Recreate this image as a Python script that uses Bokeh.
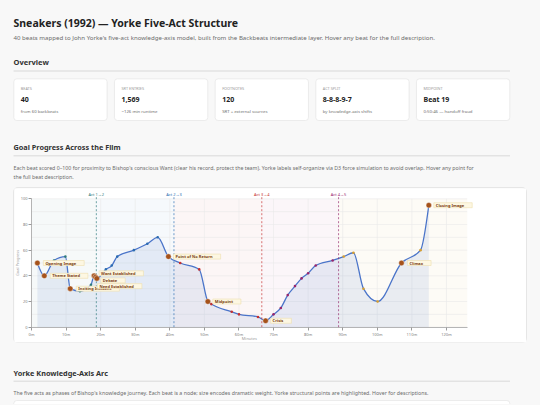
import numpy as np
from bokeh.plotting import figure
from bokeh.layouts import column
from bokeh.models import (Range1d, PrintfTickFormatter, SingleIntervalTicker, FixedTicker,
                          GlobalInlineStyleSheet)
from bokeh.core.properties import value
from bokeh.embed import file_html
from bokeh.resources import INLINE

# ---------------- data ----------------
title_text = "Sneakers (1992) \u2014 Yorke Five-Act Structure"
subtitle_text = ("40 beats mapped to John Yorke's five-act knowledge-axis model, built from the "
                 "Backbeats intermediate layer. Hover any beat for the full description.")
overview_heading = "Overview"
card_labels = ["BEATS", "SRT ENTRIES", "FOOTNOTES", "ACT SPLIT", "MIDPOINT"]
card_values = ["40", "1,569", "120", "8-8-8-9-7", "Beat 19"]
card_subs = ["from 60 backbeats", "~126 min runtime", "SRT + external sources",
             "by knowledge-axis shifts", "0:50:46 \u2014 handoff fraud"]
goal_heading = "Goal Progress Across the Film"
goal_desc = ["Each beat scored 0\u2013100 for proximity to Bishop's conscious Want (clear his record, "
             "protect the team). Yorke labels self-organize via D3 force simulation to avoid overlap. "
             "Hover any point for",
             "the full beat description."]
arc_heading = "Yorke Knowledge-Axis Arc"
arc_desc = ("The five acts as phases of Bishop's knowledge journey. Each beat is a node; size encodes "
            "dramatic weight. Yorke structural points are highlighted. Hover for descriptions.")

beat_minutes = [1.7, 3.7, 6.5, 9.8, 11.2, 14.0, 17.2, 18.1, 18.5, 18.9,
                21.5, 23.2, 24.8, 29.6, 33.5, 36.5, 39.6, 43.0, 48.5, 51.0,
                52.0, 57.9, 60.0, 65.5, 67.7, 70.0, 72.1, 74.1, 76.2, 78.1,
                80.0, 82.2, 87.1, 90.3, 93.1, 96.0, 100.1, 107.0, 112.5, 114.9]
beat_progress = [50, 40, 52, 55, 30, 28, 33, 40, 39, 38,
                 45, 48, 55, 60, 65, 70, 55, 50, 45, 20,
                 18, 12, 10, 8, 5, 10, 15, 25, 32, 38,
                 42, 48, 52, 55, 58, 30, 20, 50, 60, 95]
beat_act = [1] * 8 + [2] * 8 + [3] * 8 + [4] * 9 + [5] * 7

yorke_names = ["Opening Image", "Theme Stated", "Inciting Incident", "Want Established",
               "Need Established", "Debate", "Point of No Return", "Midpoint", "Crisis",
               "Climax", "Closing Image"]
yorke_beat_index = [0, 1, 4, 7, 8, 9, 16, 19, 24, 37, 39]

act_breaks = [18.75, 41.2, 66.6, 88.8]
act_break_labels = ["Act 1\u21922", "Act 2\u21923", "Act 3\u21924", "Act 4\u21925"]
runtime_minutes = 126
progress_max = 100
y_ticks = [0, 20, 40, 60, 80, 100]
x_axis_title = "Minutes"
y_axis_title = "Goal Progress"

# ---------------- styles / layout ----------------
FONT = "Noto Sans"
BG = "#f8f8f8"
ACT_COLORS = ["#2c7a7b", "#2b6cb0", "#c53030", "#97266d", "#d69e2e"]
LINE_COLOR = "#4a74c9"
YORKE_COLOR = "#a5521b"
label_dx = [4, 4, 4, 3, 0, 2, 3, 3, 3, 4, 3]
label_dy = [0, 0, 0, -2.5, 9, 2, 0, 0, 0, 0, 0]
PAGE_W = 540
CARD_X, CARD_Y, CARD_W, CARD_H = 14, 188, 512, 154      # chart card on page (px)
PLOT_L, PLOT_R, PLOT_T, PLOT_B = 31, 466.7, 198.3, 326.7  # plotting area on page (px)


def canvas(h, y0):
    f = figure(width=PAGE_W, height=h, x_range=Range1d(0, PAGE_W), y_range=Range1d(y0 + h, y0),
               x_axis_type=None, y_axis_type=None, output_backend="svg",
               toolbar_location=None, min_border=0, outline_line_color=None,
               background_fill_color=BG, border_fill_color=BG, frame_align=False)
    f.grid.visible = False
    return f


def txt(f, x, y, s, size, color, bold=False, align="left", angle=0):
    f.text(x=[x], y=[y], text=[s], text_font=value(FONT), text_font_size=value(size),
           text_color=color, text_font_style="bold" if bold else "normal",
           text_baseline="middle", text_align=align, angle=angle)


# ---------------- header ----------------
head = canvas(188, 0)
txt(head, 13, 22, title_text, "10.5px", "#222222", bold=True)
txt(head, 13, 36.8, subtitle_text, "6.1px", "#6b6b6b")
txt(head, 13, 61.5, overview_heading, "7.5px", "#333333", bold=True)
head.segment(x0=[13], x1=[509.5], y0=[70.5], y1=[70.5], line_color="#e3e3e3", line_width=1.5)

card_w, card_gap = 93.3, 7.37
lefts = [13.3 + i * (card_w + card_gap) for i in range(len(card_labels))]
head.quad(left=lefts, right=[l + card_w for l in lefts], top=[78.3] * 5, bottom=[120] * 5,
          fill_color="white", line_color="#e7e7e7", line_width=0.8, border_radius=3)
for i, l in enumerate(lefts):
    txt(head, l + 7, 88, card_labels[i], "3.8px", "#9a9a9a")
    txt(head, l + 7, 98.7, card_values[i], "7px", "#222222", bold=True)
    txt(head, l + 7, 110.3, card_subs[i], "4.3px", "#707070")

txt(head, 13, 146.7, goal_heading, "7.3px", "#333333", bold=True)
head.segment(x0=[13], x1=[509.5], y0=[155.3], y1=[155.3], line_color="#e3e3e3", line_width=1.5)
txt(head, 13, 167.7, goal_desc[0], "5.25px", "#6b6b6b")
txt(head, 13, 176, goal_desc[1], "5.25px", "#6b6b6b")

# ---------------- chart ----------------
sx = (PLOT_R - PLOT_L) / runtime_minutes
sy = (PLOT_B - PLOT_T) / progress_max
px2x = lambda px: (px - PLOT_L) / sx
py2y = lambda py: (PLOT_B - py) / sy

p = figure(width=CARD_W, height=CARD_H,
           x_range=Range1d(px2x(CARD_X), px2x(CARD_X + CARD_W)),
           y_range=Range1d(py2y(CARD_Y + CARD_H), py2y(CARD_Y)),
           output_backend="svg", toolbar_location=None, frame_align=False, min_border=0,
           background_fill_color="white", border_fill_color="white", outline_line_color=None)
p.margin = (0, PAGE_W - CARD_X - CARD_W, 0, CARD_X)
p.styles = {"box-shadow": "0 0 0 1px #e6e6e6", "border-radius": "4px"}
p.grid.visible = False

# act bands
band_left = [0] + act_breaks
band_right = act_breaks + [runtime_minutes]
p.quad(left=band_left, right=band_right, bottom=0, top=progress_max, fill_color=ACT_COLORS,
       fill_alpha=0.045, line_color=None)

# grid lines
gx = list(range(0, runtime_minutes + 1, 10))
gy = list(range(0, progress_max + 1, 10))
p.segment(x0=gx, x1=gx, y0=[0] * len(gx), y1=[progress_max] * len(gx),
          line_color="#e9e9e9", line_width=0.6)
p.segment(x0=[0] * len(gy), x1=[runtime_minutes] * len(gy), y0=gy, y1=gy,
          line_color="#e9e9e9", line_width=0.6)

# monotone-x curve through the beats
x = np.array(beat_minutes, dtype=float)
y = np.array(beat_progress, dtype=float)
n = len(x)
t = np.zeros(n)
for i in range(1, n - 1):
    h0, h1 = x[i] - x[i - 1], x[i + 1] - x[i]
    s0, s1 = (y[i] - y[i - 1]) / h0, (y[i + 1] - y[i]) / h1
    pp = (s0 * h1 + s1 * h0) / (h0 + h1)
    t[i] = (np.sign(s0) + np.sign(s1)) * min(abs(s0), abs(s1), 0.5 * abs(pp))
t[0] = (3 * (y[1] - y[0]) / (x[1] - x[0]) - t[1]) / 2
t[-1] = (3 * (y[-1] - y[-2]) / (x[-1] - x[-2]) - t[-2]) / 2
hh = (x[1:] - x[:-1]) / 3
cx0, cy0 = x[:-1] + hh, y[:-1] + hh * t[:-1]
cx1, cy1 = x[1:] - hh, y[1:] - hh * t[1:]

u = np.linspace(0, 1, 14)[:, None]
bx = ((1 - u) ** 3 * x[:-1] + 3 * (1 - u) ** 2 * u * cx0 + 3 * (1 - u) * u ** 2 * cx1 + u ** 3 * x[1:]).T.ravel()
by = ((1 - u) ** 3 * y[:-1] + 3 * (1 - u) ** 2 * u * cy0 + 3 * (1 - u) * u ** 2 * cy1 + u ** 3 * y[1:]).T.ravel()
p.varea(x=bx, y1=np.zeros_like(bx), y2=by, fill_color=LINE_COLOR, fill_alpha=0.11)
p.bezier(x0=x[:-1], y0=y[:-1], x1=x[1:], y1=y[1:], cx0=cx0, cy0=cy0, cx1=cx1, cy1=cy1,
         line_color=LINE_COLOR, line_width=1.3)

# act boundaries
label_y = py2y(194)
p.segment(x0=act_breaks, x1=act_breaks, y0=[0] * 4, y1=[py2y(196.5)] * 4,
          line_color=ACT_COLORS[:4], line_dash="2 2", line_width=0.8, line_alpha=0.85)
p.text(x=act_breaks, y=[label_y] * 4, text=act_break_labels, text_font=value(FONT),
       text_font_size=value("4px"), text_color=ACT_COLORS[:4], text_align="center",
       text_baseline="middle")

# small beat dots
p.scatter(x=beat_minutes, y=beat_progress, size=2.6,
          fill_color=[ACT_COLORS[a - 1] for a in beat_act], line_color=None)

# yorke labels + big circles
yx = [beat_minutes[i] for i in yorke_beat_index]
yy = [beat_progress[i] for i in yorke_beat_index]
p.text(x=yx, y=yy, text=yorke_names, x_offset=[d + 2 for d in label_dx], y_offset=label_dy,
       text_font=value(FONT), text_font_size=value("4px"), text_font_style="bold",
       text_color="#7b3f12", text_baseline="middle", text_align="left",
       background_fill_color="#fdf7e2", border_line_color="#eedfae", border_line_width=0.6,
       padding=dict(left=2, right=8, top=0, bottom=0))
p.scatter(x=yx, y=yy, size=5.5, fill_color=YORKE_COLOR, line_color="white", line_width=0.4)

# axes (fixed inside the card)
p.xaxis.fixed_location = 0
p.yaxis.fixed_location = 0
p.xaxis.bounds = (0, runtime_minutes)
p.yaxis.bounds = (0, progress_max)
p.xaxis.ticker = SingleIntervalTicker(interval=10)
p.xaxis.formatter = PrintfTickFormatter(format="%dm")
p.yaxis.ticker = FixedTicker(ticks=y_ticks)
for ax in (p.xaxis[0], p.yaxis[0]):
    ax.major_label_text_font = FONT
    ax.major_label_text_font_size = "4px"
    ax.major_label_text_color = "#808080"
    ax.axis_line_color = "#9a9a9a"
    ax.axis_line_width = 0.7
    ax.major_tick_line_color = "#9a9a9a"
    ax.major_tick_out = 3
    ax.major_tick_in = 0
    ax.minor_tick_line_color = None
    ax.major_label_standoff = 1
txt(p, px2x((PLOT_L + PLOT_R) / 2), py2y(338), x_axis_title, "4px", "#9a9a9a", align="center")
txt(p, px2x(16.7), py2y((PLOT_T + PLOT_B) / 2), y_axis_title, "4px", "#9a9a9a",
    align="center", angle=np.pi / 2)

# ---------------- footer ----------------
foot = canvas(62, 342)
txt(foot, 13, 372.3, arc_heading, "7.3px", "#333333", bold=True)
foot.segment(x0=[13], x1=[509.5], y0=[380.7], y1=[380.7], line_color="#e3e3e3", line_width=1.5)
txt(foot, 13, 392.3, arc_desc, "5.25px", "#6b6b6b")
foot.quad(left=[13.3], right=[509.3], top=[400], bottom=[430], fill_color="white",
          line_color="#e7e7e7", line_width=0.8, border_radius=3)

page = column(head, p, foot, spacing=0, styles={"background-color": BG},
              stylesheets=[GlobalInlineStyleSheet(css="body{background-color:%s;}" % BG)])

open("out.html", "w").write(file_html(page, INLINE))
